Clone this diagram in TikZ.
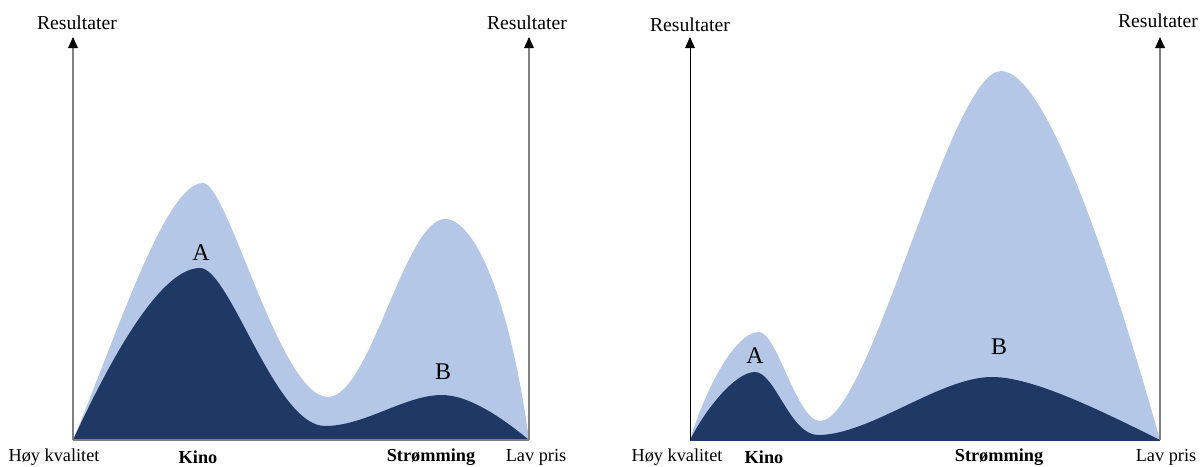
\documentclass[tikz,border=0pt]{standalone}
\usepackage{fontspec}
\setmainfont{Liberation Serif}
\usetikzlibrary{arrows.meta}
\definecolor{lysblaa}{HTML}{B4C7E7}
\definecolor{morkblaa}{HTML}{203864}
\tikzset{
  akse/.style={line width=0.8pt, -{Triangle[width=7pt,length=8pt,color=black]}},
  tittel/.style={font=\fontsize{14}{16}\selectfont},
  merke/.style={font=\fontsize{13}{15}\selectfont},
  bokstav/.style={font=\fontsize{17}{19}\selectfont}
}
\begin{document}
\begin{tikzpicture}[x=0.025cm,y=-0.025cm]
    \useasboundingbox (0,0) rectangle (1201,466);
    % venstre figur
    \fill[lysblaa] (73,440) .. controls (115,340) and (165,183) .. (203,183)
        .. controls (228,183) and (280,397) .. (328,397)
        .. controls (370,397) and (405,219) .. (445,219)
        .. controls (475,219) and (510,300) .. (529,440) -- cycle;
    \fill[morkblaa] (73,440) .. controls (110,360) and (160,268) .. (200,268)
        .. controls (230,268) and (275,426) .. (325,426)
        .. controls (365,426) and (405,395) .. (442,395)
        .. controls (470,395) and (505,420) .. (529,440) -- cycle;
    \coordinate (o1) at (73,440);
    \coordinate (o2) at (529,440);
    \coordinate (t1) at (73,37);
    \coordinate (t2) at (529,37);
    \draw[gray,line width=0.8pt] (o1)--(o2);
    \draw[akse,gray] (o1)--(t1);
    \draw[akse,gray] (o2)--(t2);
    \node[tittel](r1) at (77,23) {Resultater};
    \node[tittel](r2) at (527,23) {Resultater};
    \node[bokstav](a1) at (201,253) {A};
    \node[bokstav](b1) at (443,372) {B};
    \node[merke](h1) at (54,457) {Høy kvalitet};
    \node[merke](k1) at (198,457) {\textbf{Kino}};
    \node[merke](s1) at (431,457) {\textbf{Strømming}};
    \node[merke](l1) at (536,457) {Lav pris};
    % hoyre figur
    \fill[lysblaa] (690,440) .. controls (705,390) and (735,332) .. (759,332)
        .. controls (777,332) and (797,421) .. (820,421)
        .. controls (870,421) and (950,71) .. (1001,71)
        .. controls (1048,71) and (1115,280) .. (1160,440) -- cycle;
    \fill[morkblaa] (690,440) .. controls (705,410) and (735,372) .. (755,372)
        .. controls (775,372) and (790,435) .. (818,435)
        .. controls (870,435) and (940,377) .. (992,377)
        .. controls (1030,377) and (1090,405) .. (1160,440) -- cycle;
    \coordinate (o3) at (690,440);
    \coordinate (o4) at (1160,440);
    \coordinate (t3) at (690,37);
    \coordinate (t4) at (1160,37);
    \draw[morkblaa,line width=0.8pt] (o3)--(o4);
    \draw[akse,black,line width=0.6pt] (o3)--(t3);
    \draw[akse,gray] (o4)--(t4);
    \node[tittel](r3) at (690,25) {Resultater};
    \node[tittel](r4) at (1158,21) {Resultater};
    \node[bokstav](a2) at (755,356) {A};
    \node[bokstav](b2) at (999,347) {B};
    \node[merke](h2) at (677,457) {Høy kvalitet};
    \node[merke](k2) at (764,457) {\textbf{Kino}};
    \node[merke](s2) at (999,457) {\textbf{Strømming}};
    \node[merke](l2) at (1166,457) {Lav pris};
\end{tikzpicture}
\end{document}
